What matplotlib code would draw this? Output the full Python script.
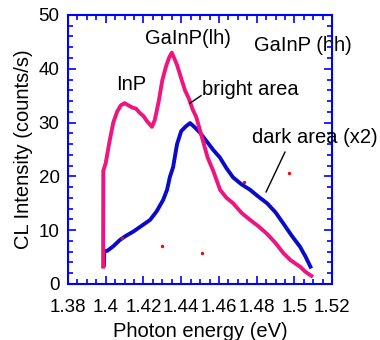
import matplotlib
matplotlib.use("Agg")
from matplotlib import pyplot as plt
from matplotlib.ticker import MultipleLocator, FormatStrFormatter

plt.rcParams['font.family'] = ['Liberation Sans', 'DejaVu Sans']

# bright area spectrum (photon energy eV, counts/s)
bright_e = [1.3986, 1.3987, 1.400, 1.402, 1.404, 1.406, 1.408, 1.410, 1.412, 1.414,
            1.416, 1.418, 1.420, 1.422, 1.4245, 1.426, 1.428, 1.430, 1.432, 1.4335,
            1.435, 1.436, 1.4378, 1.440, 1.442, 1.444, 1.446, 1.448, 1.450, 1.452,
            1.454, 1.457, 1.4606, 1.464, 1.4675, 1.472, 1.4765, 1.481, 1.4855, 1.490,
            1.494, 1.498, 1.503, 1.506, 1.509]
bright_i = [3.2, 21.0, 22.5, 26.5, 30.0, 32.0, 33.2, 33.6, 33.2, 32.8,
            32.6, 31.8, 31.2, 30.2, 29.2, 30.5, 33.8, 37.9, 40.5, 42.0,
            43.0, 42.2, 40.7, 38.2, 36.0, 34.5, 32.5, 31.0, 28.5, 26.0,
            23.5, 21.0, 17.5, 16.0, 15.0, 13.2, 11.9, 10.7, 9.3, 7.6,
            5.8, 4.4, 3.2, 2.2, 1.5]

# dark area spectrum (x2)
dark_e = [1.3990, 1.3992, 1.401, 1.404, 1.4076, 1.411, 1.4145, 1.419, 1.4235, 1.427,
          1.4304, 1.4325, 1.434, 1.4357, 1.4378, 1.440, 1.4425, 1.4447, 1.4475, 1.450,
          1.4535, 1.457, 1.4605, 1.464, 1.4675, 1.472, 1.4765, 1.481, 1.4855, 1.490,
          1.494, 1.4985, 1.503, 1.506, 1.5085]
dark_i = [3.5, 6.0, 6.2, 7.0, 8.2, 9.0, 9.7, 10.8, 11.9, 13.5,
          15.6, 17.5, 19.9, 21.7, 26.0, 28.4, 29.3, 29.9, 29.0, 28.1,
          26.5, 24.9, 23.5, 21.5, 19.8, 18.5, 17.5, 16.2, 15.0, 13.3,
          11.3, 9.0, 6.9, 5.0, 3.2]

# stray red specks
spot_e = [1.4086, 1.430, 1.451, 1.4734, 1.497]
spot_i = [8.5, 7.1, 5.8, 19.0, 20.6]

frame = '#0000ff'
pink = '#f0147f'
blue = '#0a0acc'
fs = 14.5

fig = plt.figure(figsize=(3.8, 3.4), dpi=100)
ax = fig.add_axes([0.179, 0.165, 0.695, 0.791])

ax.plot(dark_e, dark_i, color=blue, lw=2.8)
ax.plot(bright_e, bright_i, color=pink, lw=2.8)
ax.scatter(spot_e, spot_i, s=2, color='red', zorder=4)

ax.set_xlim(1.38, 1.52)
ax.set_ylim(0, 50)
ax.xaxis.set_major_locator(MultipleLocator(0.02))
ax.xaxis.set_minor_locator(MultipleLocator(0.005))
ax.yaxis.set_major_locator(MultipleLocator(10))
ax.yaxis.set_minor_locator(MultipleLocator(2))
ax.xaxis.set_major_formatter(FormatStrFormatter('%g'))

for s in ax.spines.values():
    s.set_color(frame)
    s.set_linewidth(1.5)
ax.tick_params(which='both', direction='in', top=True, right=True,
               color=frame, width=1.2, labelsize=13.5)
ax.tick_params(which='major', length=6, pad=6)
ax.tick_params(axis='x', which='major', pad=11)
ax.tick_params(which='minor', length=3.5)

ax.set_xlabel('Photon energy (eV)', fontsize=fs, labelpad=4)
ax.set_ylabel('CL Intensity (counts/s)', fontsize=fs, labelpad=4)

ax.text(1.4134, 37, 'InP', fontsize=fs, ha='center', va='center')
ax.text(1.4436, 45.7, 'GaInP(lh)', fontsize=fs, ha='center', va='center')
ax.text(1.5046, 44.4, 'GaInP (hh)', fontsize=fs, ha='center', va='center',
        clip_on=False, zorder=1)
ax.text(1.451, 36.1, 'bright area', fontsize=fs, ha='left', va='center')
ax.text(1.4776, 27.3, 'dark area (x2)', fontsize=fs, ha='left', va='center',
        clip_on=False)
ax.plot([1.4447, 1.4505], [33.6, 35.0], color='black', lw=1)
ax.plot([1.495, 1.485], [24.5, 17.1], color='black', lw=1)

fig.savefig('out.png', dpi=100)
